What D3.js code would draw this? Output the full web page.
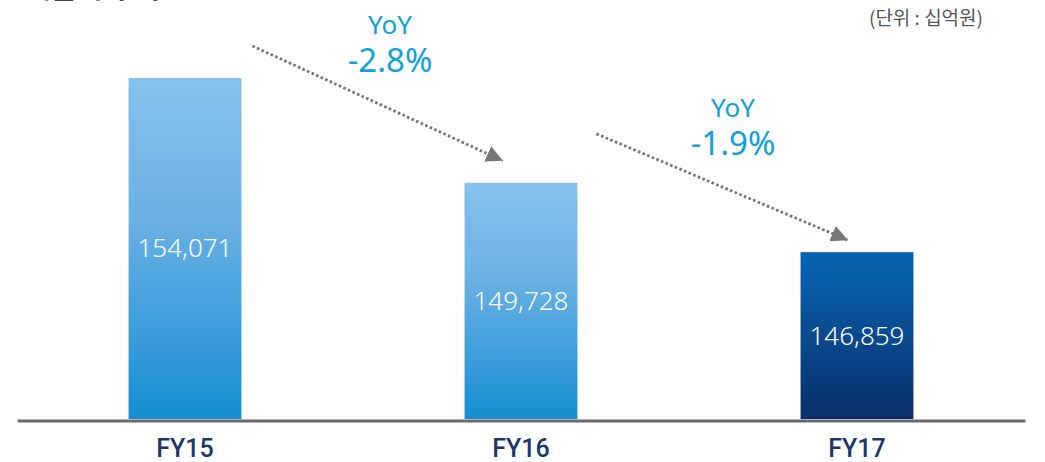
<!DOCTYPE html>
<html><head><meta charset="utf-8">
<script src="https://cdn.jsdelivr.net/npm/d3@7"></script>
<style>
html,body{margin:0;padding:0;background:#fff;}
svg{display:block;}
</style></head>
<body><svg id="c" width="1045" height="462"></svg>
<script>
const categories = ["FY15", "FY16", "FY17"];
const values = [154071, 149728, 146859];
const valueLabels = ["154,071", "149,728", "146,859"];
const yoyLabels = ["-2.8%", "-1.9%"];
const unitLabel = "(단위 : 십억원)";
const titleText = "매출액 추이";

const W = 1045, H = 462;
const svg = d3.select("#c");
const defs = svg.append("defs");

const x = d3.scaleBand().domain(categories).range([17, 1025]).paddingInner(0.664).paddingOuter(0.332);
const y = d3.scaleLinear().domain([139950, 154400]).range([419, 70]);

// gradients
const gl = defs.append("linearGradient").attr("id", "gLight").attr("x1",0).attr("y1",0).attr("x2",0).attr("y2",1);
gl.append("stop").attr("offset","0%").attr("stop-color","#86c2ed");
gl.append("stop").attr("offset","40%").attr("stop-color","#6cb1e4");
gl.append("stop").attr("offset","100%").attr("stop-color","#168ed0");
const gd = defs.append("linearGradient").attr("id", "gDark").attr("x1",0).attr("y1",0).attr("x2",0).attr("y2",1);
gd.append("stop").attr("offset","0%").attr("stop-color","#0865b3");
gd.append("stop").attr("offset","100%").attr("stop-color","#0a2f69");

const marker = defs.append("marker").attr("id","arr").attr("viewBox","0 0 10 10")
  .attr("refX",10).attr("refY",5).attr("markerWidth",6).attr("markerHeight",6)
  .attr("markerUnits","strokeWidth").attr("orient","auto");
marker.append("path").attr("d","M0,0 L10,5 L0,10 Z").attr("fill","#777");

// title (cut off at top)
svg.append("text").attr("x", 25).attr("y", -2).attr("font-family","'Noto Sans CJK KR'")
  .attr("font-weight", 700).attr("font-size", 28).attr("fill", "#111").text(titleText);

svg.append("text").attr("x", 983).attr("y", 25).attr("text-anchor","end")
  .attr("font-family","'Noto Sans CJK KR'").attr("font-weight",400).attr("font-size", 19).attr("fill","#555").text(unitLabel);

// bars
svg.selectAll("rect.bar").data(values).join("rect").attr("class","bar")
  .attr("x", (d,i) => x(categories[i])).attr("width", x.bandwidth())
  .attr("y", d => y(d)).attr("height", d => y.range()[0] - y(d))
  .attr("fill", (d,i) => i === values.length - 1 ? "url(#gDark)" : "url(#gLight)");

svg.selectAll("text.val").data(values).join("text").attr("class","val")
  .attr("x", (d,i) => x(categories[i]) + x.bandwidth()/2)
  .attr("y", d => (y(d) + y.range()[0]) / 2 + 9)
  .attr("text-anchor","middle").attr("font-family","'Noto Sans', sans-serif")
  .attr("font-weight", 300).attr("font-size", 26).attr("fill","#fff")
  .text((d,i) => valueLabels[i]);

// axis
const ax = svg.append("g").attr("transform","translate(0,420.5)")
  .call(d3.axisBottom(x).tickSize(0).tickSizeOuter(0).tickPadding(19));
ax.select(".domain").attr("stroke","#6b6b6b").attr("stroke-width",3);
ax.selectAll(".tick text").attr("font-family","Roboto, 'Noto Sans', sans-serif").attr("font-weight",500)
  .attr("font-size",25).attr("fill","#17386c");

// YoY arrows
const arrows = [
  {from: 0, to: 1, sx: 11, sy: -32, ex: -18, ey: -22, lx: 390, ly: 34},
  {from: 1, to: 2, sx: 19, sy: -49, ex: -9, ey: -12, lx: 733, ly: 117}
];
arrows.forEach((a, k) => {
  const x1 = x(categories[a.from]) + x.bandwidth() + a.sx;
  const y1 = y(values[a.from]) + a.sy;
  const x2 = x(categories[a.to]) + x.bandwidth()/2 + a.ex;
  const y2 = y(values[a.to]) + a.ey;
  svg.append("line").attr("x1",x1).attr("y1",y1).attr("x2",x2).attr("y2",y2)
    .attr("stroke","#777").attr("stroke-width",2.8).attr("stroke-dasharray","2.6,2.4")
    .attr("marker-end","url(#arr)");
  svg.append("text").attr("x", a.lx).attr("y", a.ly).attr("text-anchor","middle")
    .attr("font-family","'Noto Sans', sans-serif").attr("font-size",26).attr("fill","#10a0db").text("YoY");
  svg.append("text").attr("x", a.lx).attr("y", a.ly + 38).attr("text-anchor","middle")
    .attr("font-family","'Noto Sans', sans-serif").attr("font-size",33).attr("fill","#10a0db").text(yoyLabels[k]);
});
</script></body></html>
